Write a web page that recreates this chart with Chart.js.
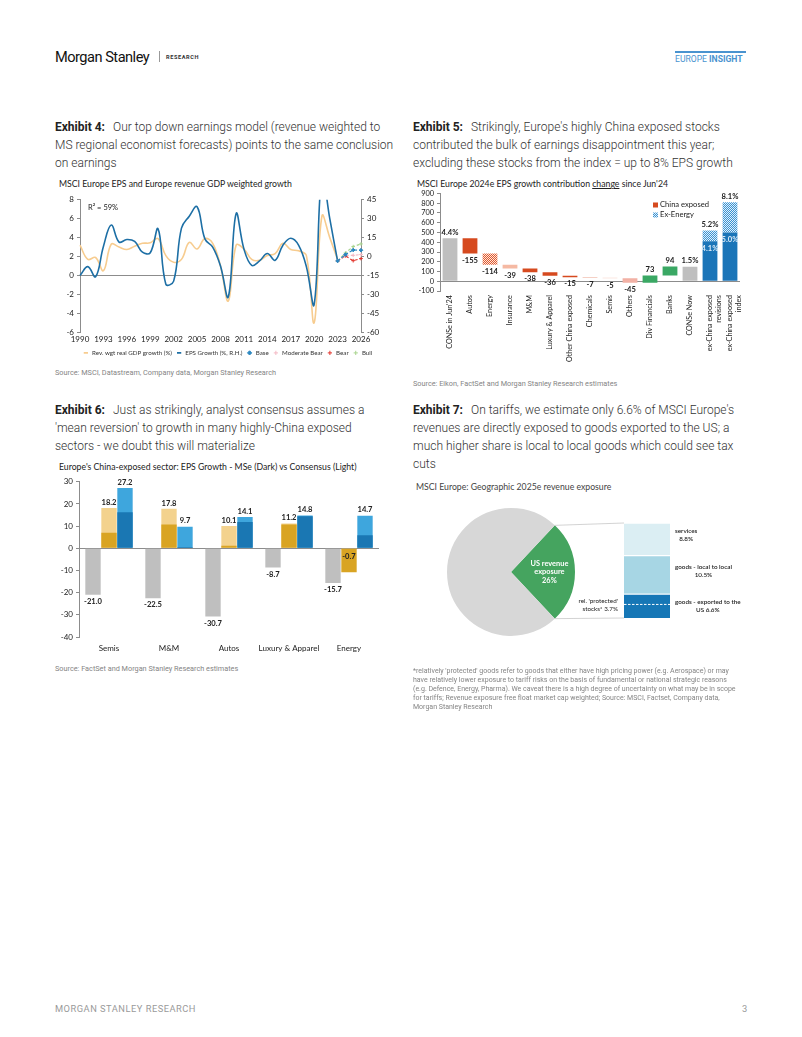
<!DOCTYPE html>
<html>
<head>
<meta charset="utf-8">
<script src="https://cdn.jsdelivr.net/npm/chart.js@4.4.1/dist/chart.umd.min.js"></script>
<style>
  body { margin: 0; background: #fff; }
  #page { position: relative; width: 802px; height: 1037px; overflow: hidden; font-family: Roboto, sans-serif; }
  .abs { position: absolute; }
  .head { font-size: 12px; font-weight: 300; line-height: 18px; color: #333; white-space: nowrap; }
  .head b { font-weight: 700; color: #222; margin-right: 8px; }
  .ctitle { font-family: Lato, sans-serif; font-size: 8.7px; color: #222; white-space: nowrap; }
  .src { font-size: 7.3px; color: #858585; white-space: nowrap; line-height: 9px; }
</style>
</head>
<body>
<div id="page">
  <!-- header -->
  <div class="abs" style="left:55px;top:48px;font-size:14.6px;letter-spacing:-0.5px;color:#111;font-family:'Liberation Sans Narrow','Roboto',sans-serif;">Morgan Stanley</div>
  <div class="abs" style="left:159px;top:51px;width:1px;height:11px;background:#999;"></div>
  <div class="abs" style="left:166px;top:54px;font-size:5.6px;font-weight:700;letter-spacing:0.6px;color:#333;">RESEARCH</div>
  <div class="abs" style="left:675px;top:51px;width:71px;height:2px;background:#4a93cf;"></div>
  <div class="abs" style="left:675px;top:54px;font-size:8.6px;color:#4a93cf;white-space:nowrap;font-family:'Liberation Sans Narrow',Roboto,sans-serif;">EUROPE <b>INSIGHT</b></div>

  <!-- Exhibit 4 -->
  <div class="abs head" style="left:55px;top:118px;"><b>Exhibit 4:</b>Our top down earnings model (revenue weighted to<br>MS regional economist forecasts) points to the same conclusion<br>on earnings</div>
  <div class="abs ctitle" style="left:59px;top:178px;">MSCI Europe EPS and Europe revenue GDP weighted growth</div>
  <div class="abs" style="left:55px;top:192px;width:345px;height:174px;"><canvas id="c4" width="345" height="174"></canvas></div>
  <div class="abs src" style="left:55px;top:368px;">Source: MSCI, Datastream, Company data, Morgan Stanley Research</div>

  <!-- Exhibit 5 -->
  <div class="abs head" style="left:413px;top:118px;"><b>Exhibit 5:</b>Strikingly, Europe's highly China exposed stocks<br>contributed the bulk of earnings disappointment this year;<br>excluding these stocks from the index = up to 8% EPS growth</div>
  <div class="abs ctitle" style="left:417px;top:178px;">MSCI Europe 2024e EPS growth contribution <u>change</u> since Jun'24</div>
  <div class="abs" style="left:413px;top:186px;width:340px;height:180px;"><canvas id="c5" width="340" height="180"></canvas></div>
  <div class="abs src" style="left:413px;top:379px;">Source: Eikon, FactSet and Morgan Stanley Research estimates</div>

  <!-- Exhibit 6 -->
  <div class="abs head" style="left:55px;top:401px;"><b>Exhibit 6:</b>Just as strikingly, analyst consensus assumes a<br>'mean reversion' to growth in many highly-China exposed<br>sectors - we doubt this will materialize</div>
  <div class="abs ctitle" style="left:59px;top:461px;">Europe's China-exposed sector: EPS Growth - MSe (Dark) vs Consensus (Light)</div>
  <div class="abs" style="left:55px;top:474px;width:340px;height:186px;"><canvas id="c6" width="340" height="186"></canvas></div>
  <div class="abs src" style="left:55px;top:664px;">Source: FactSet and Morgan Stanley Research estimates</div>

  <!-- Exhibit 7 -->
  <div class="abs head" style="left:413px;top:401px;"><b>Exhibit 7:</b>On tariffs, we estimate only 6.6% of MSCI Europe's<br>revenues are directly exposed to goods exported to the US; a<br>much higher share is local to local goods which could see tax<br>cuts</div>
  <div class="abs ctitle" style="left:416px;top:481px;color:#444;">MSCI Europe: Geographic 2025e revenue exposure</div>
  <div class="abs" style="left:413px;top:495px;width:340px;height:160px;">
    <canvas id="c7a" width="340" height="160" style="position:absolute;left:0;top:0;"></canvas>
    <canvas id="c7b" width="340" height="160" style="position:absolute;left:0;top:0;"></canvas>
  </div>
  <div class="abs src" style="left:413px;top:667px;font-size:7px;">*relatively 'protected' goods refer to goods that either have high pricing power (e.g. Aerospace) or may<br>have relatively lower exposure to tariff risks on the basis of fundamental or national strategic reasons<br>(e.g. Defence, Energy, Pharma). We caveat there is a high degree of uncertainty on what may be in scope<br>for tariffs; Revenue exposure free float market cap weighted; Source: MSCI, Factset, Company data,<br>Morgan Stanley Research</div>

  <!-- footer -->
  <div class="abs" style="left:55px;top:1003px;font-size:9.3px;letter-spacing:0.5px;color:#9a9a9a;">MORGAN STANLEY RESEARCH</div>
  <div class="abs" style="left:742px;top:1003px;font-size:9.3px;color:#9a9a9a;">3</div>
</div>

<script>
// ---------- data: Exhibit 4 ----------
const years4 = ['1990','1991','1992','1993','1994','1995','1996','1997','1998','1999','2000',
  '2001','2002','2003','2004','2005','2006','2007','2008','2009','2010','2011','2012','2013',
  '2014','2015','2016','2017','2018','2019','2020','2021','2022','2023','2024','2025','2026'];
const gdpGrowth = [3.2, 1.7, 1.9, 0.5, 3.3, 3.0, 2.75, 3.1, 3.4, 3.45, 3.9, 2.1, 1.4, 1.7, 3.5,
  2.8, 3.9, 3.4, 1.0, -2.7, 3.2, 2.8, 1.7, 1.6, 2.1, 2.3, 3.4, 2.75, 2.6, 2.1, -5.0, 6.3, 4.0, 1.7];
const epsGrowth = [-15, -8, -16, 8, 25, 11.5, 13.5, 12, 3.5, 3, 22, -22, -19.5, 22.5, 32,
  39.5, 14, 7.5, -7.5, -32, 34, 6, -7, -3.5, 2.4, -3, 9, 14.5, 9, -8, -38, 65, 30, -3.5];
const fcYears = ['2023', '2024', '2025', '2026'];
const baseCase = [-3.5, 1.5, 5.2, 5.0];
const modBearCase = [-3.5, 1.0, 1.0, 1.6];
const bearCase = [-3.5, 0.5, -3.3, -1.6];
const bullCase = [-3.5, 2.8, 7.9, 10.0];
const leftTicks4 = [-6, 8, 2];
const rightTicks4 = [-60, 45, 15];

// ---------- data: Exhibit 5 ----------
const cats5 = ["CONSe in Jun'24", 'Autos', 'Energy', 'Insurance', 'M&M', 'Luxury & Apparel',
  'Other China exposed', 'Chemicals', 'Semis', 'Others', 'Div Financials', 'Banks', 'CONSe Now',
  ['ex-China exposed', 'revisions'], ['ex-China exposed', 'index']];
const startEps = 440;
const moves5 = [-155, -114, -39, -38, -36, -15, -7, -5, -45, 73, 94];
const nowEps = 150;
const exChinaSolid = [410, 500];
const exChinaTotal = [520, 810];

// ---------- data: Exhibit 6 ----------
const cats6 = ['Semis', 'M&M', 'Autos', 'Luxury & Apparel', 'Energy'];
const cons2024 = [-21.0, -22.5, -30.7, -8.7, -15.7];
const mse2025 = [7.0, 10.7, 1.2, 10.7, -10.8];
const cons2025 = [18.2, 17.8, 10.1, 11.2, -0.7];
const mse2026 = [16.3, 0.6, 11.9, 14.5, 5.9];
const cons2026 = [27.2, 9.7, 14.1, 14.8, 14.7];

// ---------- data: Exhibit 7 ----------
const pieLabels7 = ['US revenue exposure', 'Rest of world'];
const pieShares7 = [26, 74];
const usSplitLabels = [['goods - exported to the', 'US 6.6%'], ['goods - local to local', '10.5%'], ['services', '8.8%']];
const usSplit = [6.6, 10.5, 8.8];
const protectedShare = 3.7;

Chart.defaults.font.family = 'Lato, sans-serif';
Chart.defaults.color = '#404040';
Chart.defaults.animation = false;
Chart.defaults.plugins.tooltip.enabled = false;

function checker(fg, bg) {
  const c = document.createElement('canvas');
  c.width = 2; c.height = 2;
  const g = c.getContext('2d');
  g.fillStyle = bg; g.fillRect(0, 0, 2, 2);
  g.fillStyle = fg; g.fillRect(0, 0, 1, 1); g.fillRect(1, 1, 1, 1);
  return g.createPattern(c, 'repeat');
}

const zeroGrid = (ctx) => ctx.tick && ctx.tick.value === 0 ? '#8c8c8c' : 'rgba(0,0,0,0)';

// ---------- Exhibit 4 ----------
const pad = (n) => Array(n).fill(null);
const nPre = years4.length - fcYears.length;
function fcSet(label, data, color, style) {
  return {
    label, data: pad(nPre).concat(data), yAxisID: 'y1', borderColor: color, backgroundColor: color,
    borderWidth: 1.2, borderDash: [3, 2], pointStyle: style, pointRadius: 1.8, pointBorderWidth: 1,
    tension: 0, order: 0
  };
}
new Chart(document.getElementById('c4'), {
  type: 'line',
  data: {
    labels: years4,
    datasets: [
      { label: 'Rev. wgt real GDP growth (%)', data: gdpGrowth, yAxisID: 'y', borderColor: '#f7cc8f',
        backgroundColor: '#f7cc8f', borderWidth: 1.6, pointRadius: 0, tension: 0.4, pointStyle: 'line', order: 2 },
      { label: 'EPS Growth (%, R.H.)', data: epsGrowth, yAxisID: 'y1', borderColor: '#1d6fa5',
        backgroundColor: '#1d6fa5', borderWidth: 1.6, pointRadius: 0, tension: 0.4, pointStyle: 'line', order: 1 },
      fcSet('Base', baseCase, '#2b87c0', 'rectRot'),
      fcSet('Moderate Bear', modBearCase, '#f4b9c4', 'cross'),
      fcSet('Bear', bearCase, '#e2332b', 'cross'),
      fcSet('Bull', bullCase, '#a8d48e', 'cross')
    ]
  },
  options: {
    responsive: false,
    layout: { padding: { top: 4, right: 0, left: 0, bottom: 0 } },
    scales: {
      x: {
        grid: { display: false, drawTicks: false }, border: { display: false },
        ticks: { autoSkip: false, maxRotation: 0, padding: 2, font: { size: 8 }, color: '#222',
          callback: (v, i) => i % 3 === 0 ? years4[i] : '' }
      },
      y: {
        min: leftTicks4[0], max: leftTicks4[1], ticks: { stepSize: leftTicks4[2], font: { size: 8 }, color: '#222', padding: 3 },
        grid: { color: zeroGrid, tickColor: '#8c8c8c', tickLength: 3, lineWidth: 1 },
        border: { display: true, color: '#8c8c8c' },
        afterFit: (s) => { s.width = 25; }
      },
      y1: {
        position: 'right', min: rightTicks4[0], max: rightTicks4[1],
        ticks: { stepSize: rightTicks4[2], font: { size: 8 }, color: '#222', padding: 3 },
        grid: { drawOnChartArea: false, tickColor: '#8c8c8c', tickLength: 3 },
        border: { display: true, color: '#8c8c8c' },
        afterFit: (s) => { s.width = 39; }
      }
    },
    plugins: {
      legend: {
        position: 'bottom',
        labels: { usePointStyle: true, boxWidth: 26, boxHeight: 3, padding: 4, font: { size: 6.2 }, color: '#333',
          sort: (a, b) => a.datasetIndex - b.datasetIndex }
      }
    }
  },
  plugins: [{
    id: 'r2',
    afterDraw(chart) {
      const { ctx, chartArea } = chart;
      ctx.save();
      ctx.font = '7.5px Lato';
      ctx.fillStyle = '#222';
      ctx.textBaseline = 'top';
      ctx.fillText('R\u00b2 = 59%', chartArea.left + 8, chartArea.top + 4);
      ctx.restore();
    }
  }]
});

// ---------- Exhibit 5 ----------
const ctx5 = document.getElementById('c5').getContext('2d');
const redDots = checker('#e05a30', '#fde6dc');
const blueDots = checker('#3a93d2', '#e1effa');
const colChina = '#d64a1f';
const bars5 = [[0, startEps]];
const fills5 = ['#bfbfbf'];
const moveFills = [colChina, redDots, '#f5b9a3', colChina, colChina, colChina, '#eba28c', '#f6cfc3', '#f2b1a5', '#3aa864', '#3aa864'];
let level = startEps;
moves5.forEach((m, i) => {
  bars5.push([level, level + m]);
  fills5.push(moveFills[i]);
  level += m;
});
bars5.push([0, nowEps]); fills5.push('#bfbfbf');
exChinaSolid.forEach((v) => { bars5.push([0, v]); fills5.push('#1b75b8'); });
const hatch5 = pad(cats5.length - exChinaSolid.length).concat(exChinaSolid.map((v, i) => [v, exChinaTotal[i]]));

new Chart(ctx5, {
  type: 'bar',
  data: {
    labels: cats5,
    datasets: [
      { data: bars5, backgroundColor: fills5, grouped: false, barPercentage: 0.74, categoryPercentage: 1 },
      { data: hatch5, backgroundColor: blueDots, grouped: false, barPercentage: 0.74, categoryPercentage: 1 }
    ]
  },
  options: {
    responsive: false,
    layout: { padding: { top: 7, right: 13, left: 0, bottom: 0 } },
    scales: {
      x: {
        grid: { display: false, drawTicks: false }, border: { display: false },
        ticks: { autoSkip: false, minRotation: 90, maxRotation: 90, font: { size: 7.2 }, color: '#222', padding: 4 }
      },
      y: {
        min: -100, max: 900,
        ticks: { stepSize: 100, autoSkip: false, font: { size: 7.4 }, color: '#222', padding: 3 },
        grid: { color: zeroGrid, tickColor: '#8c8c8c', tickLength: 3 },
        border: { display: true, color: '#8c8c8c' },
        afterFit: (s) => { s.width = 27; }
      }
    },
    plugins: { legend: { display: false } }
  },
  plugins: [{
    id: 'labels5',
    afterDraw(chart) {
      const { ctx, scales: { x, y } } = chart;
      ctx.save();
      ctx.font = 'bold 7.6px Lato';
      ctx.textAlign = 'center';
      const pct = (v) => (v / 100).toFixed(1) + '%';
      const put = (i, val, txt, above, color) => {
        ctx.fillStyle = color || '#222';
        ctx.textBaseline = above ? 'bottom' : 'top';
        ctx.fillText(txt, x.getPixelForValue(i), y.getPixelForValue(val) + (above ? -2 : 3));
      };
      put(0, startEps, pct(startEps), true);
      moves5.forEach((m, k) => {
        const [a, b] = bars5[k + 1];
        put(k + 1, m < 0 ? Math.min(a, b) : Math.max(a, b), String(m), m > 0);
      });
      put(12, nowEps, pct(nowEps), true);
      exChinaSolid.forEach((v, k) => {
        put(13 + k, exChinaTotal[k], pct(exChinaTotal[k]), true);
        put(13 + k, v, pct(v), false, '#dcecf8');
      });
      // legend
      const lx = 653 - 413, items = [['China exposed', colChina], ['Ex-Energy', blueDots]];
      ctx.font = '7.6px Lato';
      ctx.textAlign = 'left';
      ctx.textBaseline = 'middle';
      items.forEach(([t, c], k) => {
        const yy = 19 + k * 10;
        ctx.fillStyle = c;
        ctx.fillRect(lx, yy - 2.5, 5, 5);
        ctx.fillStyle = '#222';
        ctx.fillText(t, lx + 7, yy);
      });
      ctx.restore();
    }
  }]
});

// ---------- Exhibit 6 ----------
const dark25 = '#d9a423', light25 = '#f3d28e', dark26 = '#1a77b3', light26 = '#3ea6dd';
const bar6 = { categoryPercentage: 0.8, barPercentage: 0.96 };
new Chart(document.getElementById('c6'), {
  type: 'bar',
  data: {
    labels: cats6,
    datasets: [
      { label: '2024 (CONSe)', data: cons2024, backgroundColor: '#bfbfbf', stack: 'a', order: 0, ...bar6 },
      { label: '2025', data: mse2025, backgroundColor: dark25, stack: 'b', order: 0, ...bar6 },
      { label: '2026', data: mse2026, backgroundColor: dark26, stack: 'c', order: 0, ...bar6 },
      { label: '2025 cons', data: cons2025, backgroundColor: light25, stack: 'b', order: 1, ...bar6 },
      { label: '2026 cons', data: cons2026, backgroundColor: light26, stack: 'c', order: 1, ...bar6 }
    ]
  },
  options: {
    responsive: false,
    layout: { padding: { top: 6, right: 16, left: 0, bottom: 0 } },
    scales: {
      x: {
        stacked: true,
        grid: { display: false, drawTicks: false }, border: { display: false },
        ticks: { font: { size: 8 }, color: '#222', padding: 7, maxRotation: 0, autoSkip: false },
        afterFit: (s) => { s.height = 23; }
      },
      y: {
        stacked: false,
        min: -40, max: 30, ticks: { stepSize: 10, font: { size: 8 }, color: '#222', padding: 3 },
        grid: { color: zeroGrid, tickColor: '#8c8c8c', tickLength: 3 },
        border: { display: true, color: '#8c8c8c' },
        afterFit: (s) => { s.width = 24; }
      }
    },
    plugins: {
      legend: {
        position: 'top', align: 'end',
        labels: { boxWidth: 6, boxHeight: 6, padding: 6, font: { size: 7.6 }, color: '#333',
          filter: (item) => ['2024 (CONSe)', '2025', '2026'].includes(item.text) }
      }
    }
  },
  plugins: [{
    id: 'legendNoSpace',
    beforeInit(chart) {
      const fit = chart.legend.fit;
      chart.legend.fit = function () { fit.call(this); this.height = 0; };
    }
  }, {
    id: 'labels6',
    afterDatasetsDraw(chart) {
      const { ctx } = chart;
      ctx.save();
      ctx.font = 'bold 7.6px Lato';
      ctx.fillStyle = '#222';
      ctx.textAlign = 'center';
      [[0, cons2024], [3, cons2025], [4, cons2026]].forEach(([di, vals]) => {
        chart.getDatasetMeta(di).data.forEach((el, i) => {
          const v = vals[i];
          const up = v >= 0;
          ctx.textBaseline = up ? 'bottom' : 'top';
          ctx.fillText(v.toFixed(1), el.x, el.y + (up ? -2 : 3));
        });
      });
      ctx.restore();
    }
  }]
});

// ---------- Exhibit 7 ----------
const share0 = pieShares7[0] / pieShares7.reduce((a, b) => a + b, 0);
const pie7 = new Chart(document.getElementById('c7a'), {
  type: 'pie',
  data: { labels: pieLabels7, datasets: [{ data: pieShares7, backgroundColor: ['#45a45f', '#d7d7d7'], borderWidth: 0 }] },
  options: {
    responsive: false,
    rotation: 90 - share0 * 180,
    layout: { padding: { left: 34, top: 13, right: 178, bottom: 19 } },
    plugins: { legend: { display: false } }
  },
  plugins: [{
    id: 'pieText',
    afterDraw(chart) {
      const arc = chart.getDatasetMeta(0).data[0];
      const { ctx } = chart;
      ctx.save();
      ctx.font = 'bold 7.4px Lato';
      ctx.fillStyle = '#fff';
      ctx.textAlign = 'center';
      ctx.textBaseline = 'middle';
      const cx = arc.x + arc.outerRadius * 0.6, cy = arc.y;
      ['US revenue', 'exposure', pieShares7[0] + '%'].forEach((t, k) => ctx.fillText(t, cx, cy + (k - 1) * 8.5));
      ctx.restore();
    }
  }]
});

new Chart(document.getElementById('c7b'), {
  type: 'bar',
  data: {
    labels: ['US'],
    datasets: [
      { data: [usSplit[0]], backgroundColor: '#1677b6' },
      { data: [usSplit[1]], backgroundColor: '#a7d6e4' },
      { data: [usSplit[2]], backgroundColor: '#dbeef3' }
    ]
  },
  options: {
    responsive: false,
    layout: { padding: { left: 211, right: 83, top: 28, bottom: 37 } },
    datasets: { bar: { barPercentage: 1, categoryPercentage: 1, borderWidth: { top: 1.2 }, borderColor: '#fff', borderSkipped: false } },
    scales: {
      x: { display: false, stacked: true },
      y: { display: false, stacked: true, min: 0, max: usSplit.reduce((a, b) => a + b, 0) }
    },
    plugins: { legend: { display: false } }
  },
  plugins: [{
    id: 'split7',
    afterDraw(chart) {
      const { ctx, scales: { y } } = chart;
      const els = chart.data.datasets.map((d, i) => chart.getDatasetMeta(i).data[0]);
      const left = els[0].x - els[0].width / 2, right = els[0].x + els[0].width / 2;
      const top = els[2].y, bottom = els[0].base;
      ctx.save();
      // connector lines from the US slice
      const arc = pie7.getDatasetMeta(0).data[0];
      ctx.strokeStyle = '#c8c8c8';
      ctx.lineWidth = 0.8;
      [[arc.startAngle, top], [arc.endAngle, bottom]].forEach(([a, yy]) => {
        ctx.beginPath();
        ctx.moveTo(arc.x + arc.outerRadius * Math.cos(a), arc.y + arc.outerRadius * Math.sin(a));
        ctx.lineTo(left, yy);
        ctx.stroke();
      });
      // protected stocks dashed line
      const py = y.getPixelForValue(protectedShare);
      ctx.strokeStyle = '#fff';
      ctx.lineWidth = 1;
      ctx.setLineDash([2.5, 1.5]);
      ctx.beginPath(); ctx.moveTo(left, py); ctx.lineTo(right, py); ctx.stroke();
      ctx.setLineDash([]);
      ctx.font = '6.3px Lato';
      ctx.fillStyle = '#222';
      ctx.textAlign = 'right';
      ctx.textBaseline = 'middle';
      ctx.fillText("rel. 'protected'", left - 6, py - 3);
      ctx.fillText('stocks* ' + protectedShare + '%', left - 6, py + 5);
      // segment labels
      ctx.font = '600 6.3px Lato';
      ctx.textAlign = 'center';
      els.forEach((el, i) => {
        const lines = usSplitLabels[i];
        const w = Math.max(...lines.map((t) => ctx.measureText(t).width));
        const cx = right + 5 + w / 2;
        const cy = i === 0 ? (el.y + el.base) / 2 : (el.y + el.base) / 2 - 4;
        lines.forEach((t, k) => ctx.fillText(t, cx, cy + (k - 0.5) * 8));
      });
      ctx.restore();
    }
  }]
});
</script>
</body>
</html>
